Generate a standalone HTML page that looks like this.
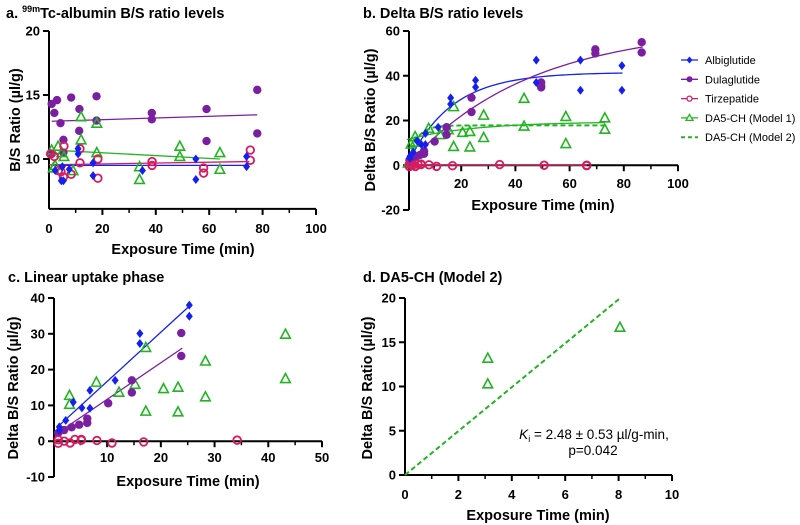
<!DOCTYPE html>
<html><head><meta charset="utf-8"><style>
body{margin:0;background:#fff}
svg{display:block;font-family:"Liberation Sans",Arial,sans-serif}
.t{font-weight:bold;font-size:14.5px}
.tk{font-weight:bold;font-size:13px}
.ax{font-weight:bold;font-size:14.5px}
.lg{font-size:11px}
</style></head><body>
<svg id="chart" width="800" height="525" viewBox="0 0 800 525"></svg>
<script>
// ---- Panel a data ----
const aAlbX=[2.3,4.6,5.4,5,7.6,10.9,10.9,16.5,16.5,35,55,55,74,74];
const aAlbY=[9.1,8.3,8.3,9.4,9.2,10.8,10.4,9.7,8.7,9.1,10.0,8.4,10.2,9.4];
const aDulX=[1,2,3,4.3,8.3,11.4,11.3,17.8,17.8,5.4,5.4,1,38.5,38.5,59,59,78,78];
const aDulY=[14.3,13.6,14.6,12.8,14.8,13.9,12.2,14.9,13.0,11.5,10.5,10.4,13.6,13.1,13.9,11.4,15.4,12.0];
const aTirX=[0.6,2,3.5,4.5,5.6,5.4,8.3,11.6,11.6,18.3,18.3,38.6,38.6,57.9,57.9,75.4,75.4];
const aTirY=[10.4,10.2,9.1,9.0,11.0,8.6,8.8,10.8,9.7,10.0,8.5,9.8,9.5,9.3,8.9,10.7,9.9];
const aDaX=[1,1.6,2.3,3.4,4.8,5.6,12,12,9,17.9,17.9,33.9,33.9,49,49,64,64];
const aDaY=[10.7,9.3,9.5,11.0,10.5,10.2,13.3,11.5,9.1,12.8,10.5,9.4,8.4,11.0,10.2,10.5,9.2];
const aFitAlb=[[1,9.5],[74,9.5]];
const aFitDul=[[1,12.95],[78,13.45]];
const aFitTir=[[0,9.55],[75,9.8]];
const aFitDa=[[1,10.7],[64,10.0]];
// ---- Panel c / linear phase data ----
const cAlbX=[1.1,1.1,2.3,3.7,5.3,6.8,6.8,11.5,16.1,16.1,25.3,25.3];
const cAlbY=[4.0,3.1,5.8,10.9,9.3,14.2,9.2,17,30.1,27.3,38,34.9];
const cDulX=[0.9,2,3.4,4.8,6.3,6.3,10.2,14.6,14.6,23.8,23.8];
const cDulY=[2.3,3.1,3.9,4.6,6.3,5.1,10.6,17,13.6,30.2,23.8];
const cTirX=[0.9,0.9,2,3.1,4,5.2,5.2,8.1,10.9,16.8,34.2];
const cTirY=[-0.6,0.4,0,-0.5,0.5,0.3,0.5,0.2,-0.5,-0.2,0.3];
const cDaX=[3,3,8,12.2,15.2,17.2,17.2,20.5,23.2,23.2,28.3,28.3,43.2,43.2];
const cDaY=[12.8,10.3,16.5,13.7,15.9,26.2,8.4,14.7,15.1,8.2,22.4,12.4,29.9,17.5];
const cFitAlb=[[1,4.3],[25.5,38]];
const cFitDul=[[1,2.5],[24,26]];
// ---- Panel b extra (late) points ----
const bAlbX=[47.7,47.7,64,64,79.3,79.3];
const bAlbY=[47,37,47,33.5,44.5,33.5];
const bDulX=[49.5,49.5,49.5,69.5,69.5,86.6,86.6];
const bDulY=[37,35.4,34.8,51.8,50,55,50.4];
const bTirX=[50.6,66.3,66.3];
const bTirY=[0,0,-0.2];
const bDaX=[0.5,1.5,58.6,58.6,73,73];
const bDaY=[1,9.5,21.8,9.7,21.2,16.1];
// fit parameters (one-phase association)
const bAlbFit=[41.5,0.062];
const bDulFit=[62,0.022];
const bDa1Fit=[11.5,8,0.04];
const bDa2Fit=[17.8,0.3];
// ---- Panel d ----
const dX=[3.1,3.1,8.05];
const dY=[13.2,10.3,16.7];
const dSlope=2.48;

const svg=document.getElementById('chart');
const NS='http://www.w3.org/2000/svg';
function mk(tag,attrs,parent){const e=document.createElementNS(NS,tag);for(const k in attrs)e.setAttribute(k,attrs[k]);(parent||svg).appendChild(e);return e;}
function txt(s,x,y,cls,anchor,parent){const e=mk('text',{x:x,y:y,class:cls,'text-anchor':anchor||'start'},parent);e.textContent=s;return e;}

const C={alb:'#1520f0',dul:'#7b1fa2',tir:'#d81b60',da:'#22b422'};

function scale(d0,d1,p0,p1){return v=>p0+(v-d0)*(p1-p0)/(d1-d0);}

function axes(g,sx,sy,cfg){
  const yl=mk('line',{x1:cfg.yAxX,x2:cfg.yAxX,y1:sy(cfg.ymax),y2:sy(cfg.ymin),stroke:'#000','stroke-width':2},g);
  
  
  cfg.yt.forEach(v=>{
    mk('line',{x1:cfg.yAxX-6,x2:cfg.yAxX,y1:sy(v),y2:sy(v),stroke:'#000','stroke-width':2},g);
    const t=txt(String(v),cfg.yAxX-9,sy(v)+4.5,'tk','end',g);
    
    
  });
  const xy=sy(cfg.xAxAt);
  const xl=mk('line',{x1:cfg.yAxX,x2:sx(cfg.xmax),y1:xy,y2:xy,stroke:'#000','stroke-width':2},g);
  
  
  cfg.xt.forEach(v=>{
    if(v>0) mk('line',{x1:sx(v),x2:sx(v),y1:xy,y2:xy+6,stroke:'#000','stroke-width':2},g);
  });
  cfg.xm.forEach(v=>{mk('line',{x1:sx(v),x2:sx(v),y1:xy,y2:xy+4,stroke:'#000','stroke-width':1.5},g);});
  cfg.xt.forEach(v=>{
    const t=txt(String(v),sx(v),cfg.xLabY,'tk','middle',g);
    
    
  });
}
function pts(g,xs,ys,sx,sy,type,name){
  xs.forEach((x,i)=>{
    const px=sx(x),py=sy(ys[i]);let e;
    if(type==='alb') e=mk('polygon',{points:`${px},${py-4.5} ${px+3.5},${py} ${px},${py+4.5} ${px-3.5},${py}`,fill:C.alb},g);
    else if(type==='dul') e=mk('circle',{cx:px,cy:py,r:4.2,fill:C.dul},g);
    else if(type==='tir') e=mk('circle',{cx:px,cy:py,r:3.8,fill:'none',stroke:C.tir,'stroke-width':1.8},g);
    else e=mk('polygon',{points:`${px},${py-5} ${px+4.8},${py+4} ${px-4.8},${py+4}`,fill:'none',stroke:C.da,'stroke-width':1.6},g);
    
    
  });
}
function line(g,p,sx,sy,col,name,dash){
  const e=mk('polyline',{points:p.map(q=>sx(q[0])+','+sy(q[1])).join(' '),fill:'none',stroke:col,'stroke-width':dash?2:1.3,'stroke-dasharray':dash||'none'},g);
  
  
}
function curve(f,a,b){const r=[];for(let i=0;i<=60;i++){const x=a+(b-a)*i/60;r.push([x,f(x)]);}return r;}

// Panel A
{
 const g=mk('g',{});
 const sx=scale(0,100,49,316),sy=scale(10,20,159,31);
 axes(g,sx,sy,{yAxX:49,ymin:6.1,ymax:20,yt:[10,15,20],xt:[0,20,40,60,80,100],xm:[10,30,50,70,90],xmax:100,xAxAt:6.1,xLabY:233});
 const t=mk('text',{x:6,y:18,class:'t'},g);
 t.innerHTML='a. <tspan font-size="9" dy="-6">99m</tspan><tspan dy="6">Tc-albumin B/S ratio levels</tspan>';
 const yt=txt('B/S Ratio (\u00b5l/g)',0,0,'ax','middle',g);yt.setAttribute('transform','translate(20,120) rotate(-90)');
 
 const xt=txt('Exposure Time (min)',183,254,'ax','middle',g);
 line(g,aFitDul,sx,sy,C.dul,'fit-dulaglutide');line(g,aFitDa,sx,sy,C.da,'fit-da5ch');
 line(g,aFitTir,sx,sy,C.tir,'fit-tirzepatide');line(g,aFitAlb,sx,sy,C.alb,'fit-albiglutide');
 pts(g,aDulX,aDulY,sx,sy,'dul','point-dulaglutide');pts(g,aDaX,aDaY,sx,sy,'da','point-da5ch');
 pts(g,aTirX,aTirY,sx,sy,'tir','point-tirzepatide');pts(g,aAlbX,aAlbY,sx,sy,'alb','point-albiglutide');
}
// Panel B
{
 const g=mk('g',{});
 const sx=scale(0,100,407,678),sy=scale(-20,60,210,31);
 axes(g,sx,sy,{yAxX:409,ymin:-20,ymax:60,yt:[-20,0,20,40,60],xt:[20,40,60,80,100],xm:[10,30,50,70,90],xmax:100,xAxAt:0,xLabY:188});
 const t=txt('b.  Delta B/S ratio levels',363,18,'t','start',g);
 const yt=txt('Delta B/S Ratio (\u00b5l/g)',0,0,'ax','middle',g);yt.setAttribute('transform','translate(375,120) rotate(-90)');
 
 const xt=txt('Exposure Time (min)',543,210,'ax','middle',g);
 line(g,[[0,0],[66.5,0]],sx,sy,C.tir,'fit-tirzepatide');
 line(g,curve(x=>bAlbFit[0]*(1-Math.exp(-bAlbFit[1]*x)),1,79.5),sx,sy,C.alb,'fit-albiglutide');
 line(g,curve(x=>bDulFit[0]*(1-Math.exp(-bDulFit[1]*x)),1,87),sx,sy,C.dul,'fit-dulaglutide');
 line(g,curve(x=>bDa1Fit[0]+bDa1Fit[1]*(1-Math.exp(-bDa1Fit[2]*x)),0,73),sx,sy,C.da,'fit-da5ch-model1');
 line(g,curve(x=>bDa2Fit[0]*(1-Math.exp(-bDa2Fit[1]*x)),0,73),sx,sy,C.da,'fit-da5ch-model2','5,3');
 pts(g,cDaX.concat(bDaX),cDaY.concat(bDaY),sx,sy,'da','point-da5ch');
 pts(g,cDulX.concat(bDulX),cDulY.concat(bDulY),sx,sy,'dul','point-dulaglutide');
 pts(g,cTirX.concat(bTirX),cTirY.concat(bTirY),sx,sy,'tir','point-tirzepatide');
 pts(g,cAlbX.concat(bAlbX),cAlbY.concat(bAlbY),sx,sy,'alb','point-albiglutide');
 const lg=mk('g',{},g);
 const items=[['Albiglutide','alb'],['Dulaglutide','dul'],['Tirzepatide','tir'],['DA5-CH (Model 1)','da'],['DA5-CH (Model 2)','da2']];
 items.forEach((it,i)=>{
  const y=60+i*19.3;const e=mk('g',{},lg);
  
  
  const col=C[it[1]==='da2'?'da':it[1]];
  mk('line',{x1:681,x2:698,y1:y,y2:y,stroke:col,'stroke-width':it[1]==='da2'?2:1.3,'stroke-dasharray':it[1]==='da2'?'4,3':'none'},e);
  if(it[1]==='alb') mk('polygon',{points:`689.5,${y-3.5} 692.5,${y} 689.5,${y+3.5} 686.5,${y}`,fill:C.alb},e);
  if(it[1]==='dul') mk('circle',{cx:689.5,cy:y,r:3,fill:C.dul},e);
  if(it[1]==='tir') mk('circle',{cx:689.5,cy:y,r:2.5,fill:'#fff',stroke:C.tir,'stroke-width':1.3},e);
  if(it[1]==='da') mk('polygon',{points:`689.5,${y-3.5} 693,${y+2.5} 686,${y+2.5}`,fill:'#fff',stroke:C.da,'stroke-width':1.3},e);
  txt(it[0],705,y+4,'lg','start',e);
 });
}
// Panel C
{
 const g=mk('g',{});
 const sx=scale(0,50,53.4,322),sy=scale(-10,40,477,298);
 axes(g,sx,sy,{yAxX:54,ymin:-10,ymax:40,yt:[-10,0,10,20,30,40],xt:[10,20,30,40,50],xm:[5,15,25,35,45],xmax:50,xAxAt:0,xLabY:462});
 const t=txt('c. Linear uptake phase',8,282,'t','start',g);
 const yt=txt('Delta B/S Ratio (\u00b5l/g)',0,0,'ax','middle',g);yt.setAttribute('transform','translate(18,388) rotate(-90)');
 
 const xt=txt('Exposure Time (min)',188,486,'ax','middle',g);
 line(g,cFitAlb,sx,sy,C.alb,'fit-albiglutide');line(g,cFitDul,sx,sy,C.dul,'fit-dulaglutide');
 pts(g,cDaX,cDaY,sx,sy,'da','point-da5ch');pts(g,cDulX,cDulY,sx,sy,'dul','point-dulaglutide');
 pts(g,cTirX,cTirY,sx,sy,'tir','point-tirzepatide');pts(g,cAlbX,cAlbY,sx,sy,'alb','point-albiglutide');
}
// Panel D
{
 const g=mk('g',{});
 const sx=scale(0,10,405,672),sy=scale(0,20,475,298);
 axes(g,sx,sy,{yAxX:405,ymin:0,ymax:20,yt:[0,5,10,15,20],xt:[0,2,4,6,8,10],xm:[1,3,5,7,9],xmax:10,xAxAt:0,xLabY:499});
 const t=txt('d. DA5-CH (Model 2)',363,282,'t','start',g);
 const yt=txt('Delta B/S Ratio (\u00b5l/g)',0,0,'ax','middle',g);yt.setAttribute('transform','translate(372,388) rotate(-90)');
 
 const xt=txt('Exposure Time (min)',538,520,'ax','middle',g);
 line(g,[[0,0],[8.05,8.05*dSlope]],sx,sy,C.da,'fit-da5ch-model2','5,3');
 pts(g,dX,dY,sx,sy,'da','point-da5ch');
 const a1=mk('text',{x:594,y:439,'text-anchor':'middle','font-size':'13.5'},g);
 
 a1.innerHTML='<tspan font-style="italic">K</tspan><tspan font-size="9" dy="3">i</tspan><tspan dy="-3"> = 2.48 \u00b1 0.53 \u00b5l/g-min,</tspan>';
 const a2=txt('p=0.042',593,455,'','middle',g);a2.setAttribute('font-size','13.5');
 
}
</script>
</body></html>
